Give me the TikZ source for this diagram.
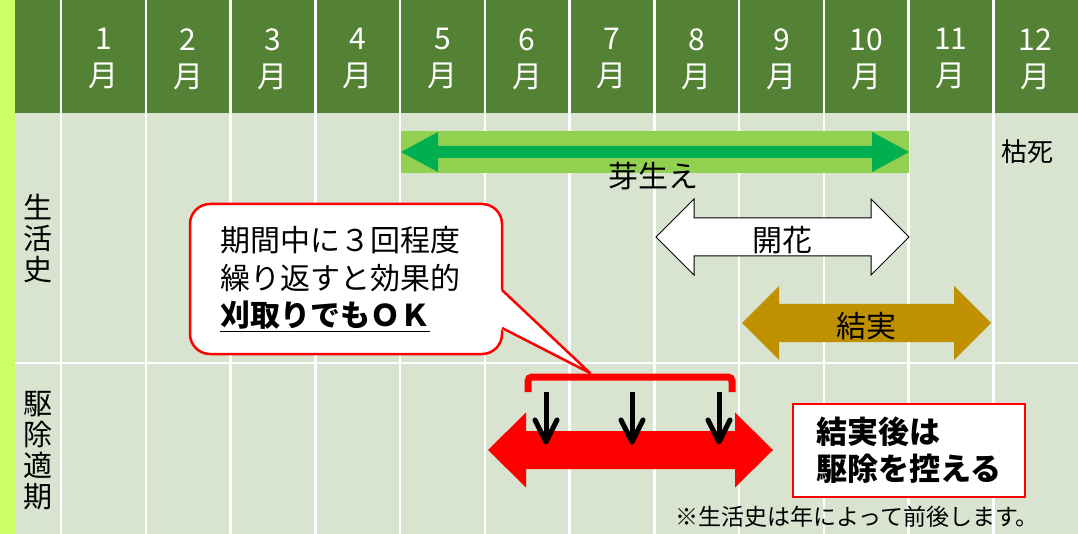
\documentclass[tikz,border=0pt]{standalone}
\usepackage{fontspec}
\setmainfont{Noto Sans CJK JP}

\definecolor{headgreen}{RGB}{84,130,53}
\definecolor{stripgreen}{RGB}{204,255,102}
\definecolor{bodygreen}{RGB}{216,228,208}
\definecolor{bandgreen}{RGB}{146,208,80}
\definecolor{sproutgreen}{RGB}{0,176,80}
\definecolor{fruitgold}{RGB}{191,144,0}

% double arrow: [style]{x from}{x to}{y centre}{head length}{head half}{shaft half}
\newcommand{\dblarrow}[7][]{%
  \path[#1] (#2,#4) -- ({#2+#5},{#4-#6}) -- ({#2+#5},{#4-#7}) -- ({#3-#5},{#4-#7})
    -- ({#3-#5},{#4-#6}) -- (#3,#4) -- ({#3-#5},{#4+#6}) -- ({#3-#5},{#4+#7})
    -- ({#2+#5},{#4+#7}) -- ({#2+#5},{#4+#6}) -- cycle;}

\tikzset{
  month/.style={text=white, align=center, font=\fontsize{30}{37}\selectfont},
  rowlabel/.style={align=center, font=\fontsize{29}{31}\selectfont},
  phase/.style={font=\fontsize{30}{36}\selectfont, inner sep=0pt},
  grid line/.style={white, line width=2.5pt},
  memo/.style={draw=red, line width=2.5pt, fill=white, rounded corners=20pt},
  timing/.style={draw=black, line width=5pt, line join=round},
}

\begin{document}
\begin{tikzpicture}[x=1pt,y=-1pt]
  \def\gx{61}
  \def\colw{84.75}

  \useasboundingbox (0,0) rectangle (1078,534);
  \fill[stripgreen] (0,0) rectangle (15,534);
  \fill[headgreen] (15,0) rectangle (1078,113);
  \fill[bodygreen] (15,113) rectangle (1078,534);
  \foreach \i in {0,...,11}
    \draw[grid line] ({\gx+\colw*\i},0) -- ({\gx+\colw*\i},534);
  \draw[grid line] (15,363) -- (1078,363);

  \foreach \m in {1,...,12}
    \node[month] (m\m) at ({\gx+\colw*(\m-0.5)},59) {\m\\月};

  \node[rowlabel] (life) at (38,238) {生\\活\\史};
  \node[rowlabel] (control) at (38,451) {駆\\除\\適\\期};

  % 生活史
  \fill[bandgreen] (401,131) rectangle (909,173);
  \dblarrow[fill=sproutgreen]{401}{909}{152}{37}{20}{6}
  \node[phase] (sprout) at (653,176) {芽生え};
  \dblarrow[draw=black, line width=1pt, fill=white]{656}{909}{237}{38}{38}{19}
  \node[phase] (bloom) at (782,240) {開花};
  \dblarrow[fill=fruitgold]{742}{991}{323}{37}{37}{19}
  \node[phase] (fruit) at (866,326) {結実};
  \node[font=\fontsize{26}{30}\selectfont] (wither) at (1027,152) {枯死};

  % 駆除適期
  \dblarrow[fill=red]{488}{773}{450}{38}{37.5}{19}
  \draw[red, line width=7pt, rounded corners=4pt] (528,392) -- (528,377) -- (732,377) -- (732,392);
  \coordinate (brk) at (590,373);
  \foreach \x in {546,632,719}{
    \coordinate (top\x) at (\x,392);
    \coordinate (hit\x) at (\x,442);
    \draw[timing] (top\x) -- (hit\x);
    \draw[timing, line cap=round] ([shift={(-11,-22)}]hit\x) -- (hit\x) -- ([shift={(11,-22)}]hit\x);
  }

  \node[memo, minimum width=312pt, minimum height=150pt, text width=252pt, align=left,
        font=\fontsize{30}{37.5}\selectfont] (memo) at (346,279)
    {期間中に３回程度\\繰り返すと効果的\\{\bfseries\underline{刈取りでもＯＫ}}};
  \coordinate (memoup) at (502,290);
  \coordinate (memodown) at (502,328);
  \fill[white] (500,289) -- (brk) -- (500,329) -- cycle;
  \draw[red, line width=2.5pt, line join=round] (memoup) -- (brk) -- (memodown);

  \node[draw=red, line width=2pt, fill=white, minimum width=232pt, minimum height=93pt,
        align=left, font=\bfseries\fontsize{31}{37}\selectfont] (after) at (909,450.5)
    {結実後は\\駆除を控える};
  \node[font=\fontsize{23}{27}\selectfont] (note) at (857,517) {※生活史は年によって前後します。};
\end{tikzpicture}
\end{document}
